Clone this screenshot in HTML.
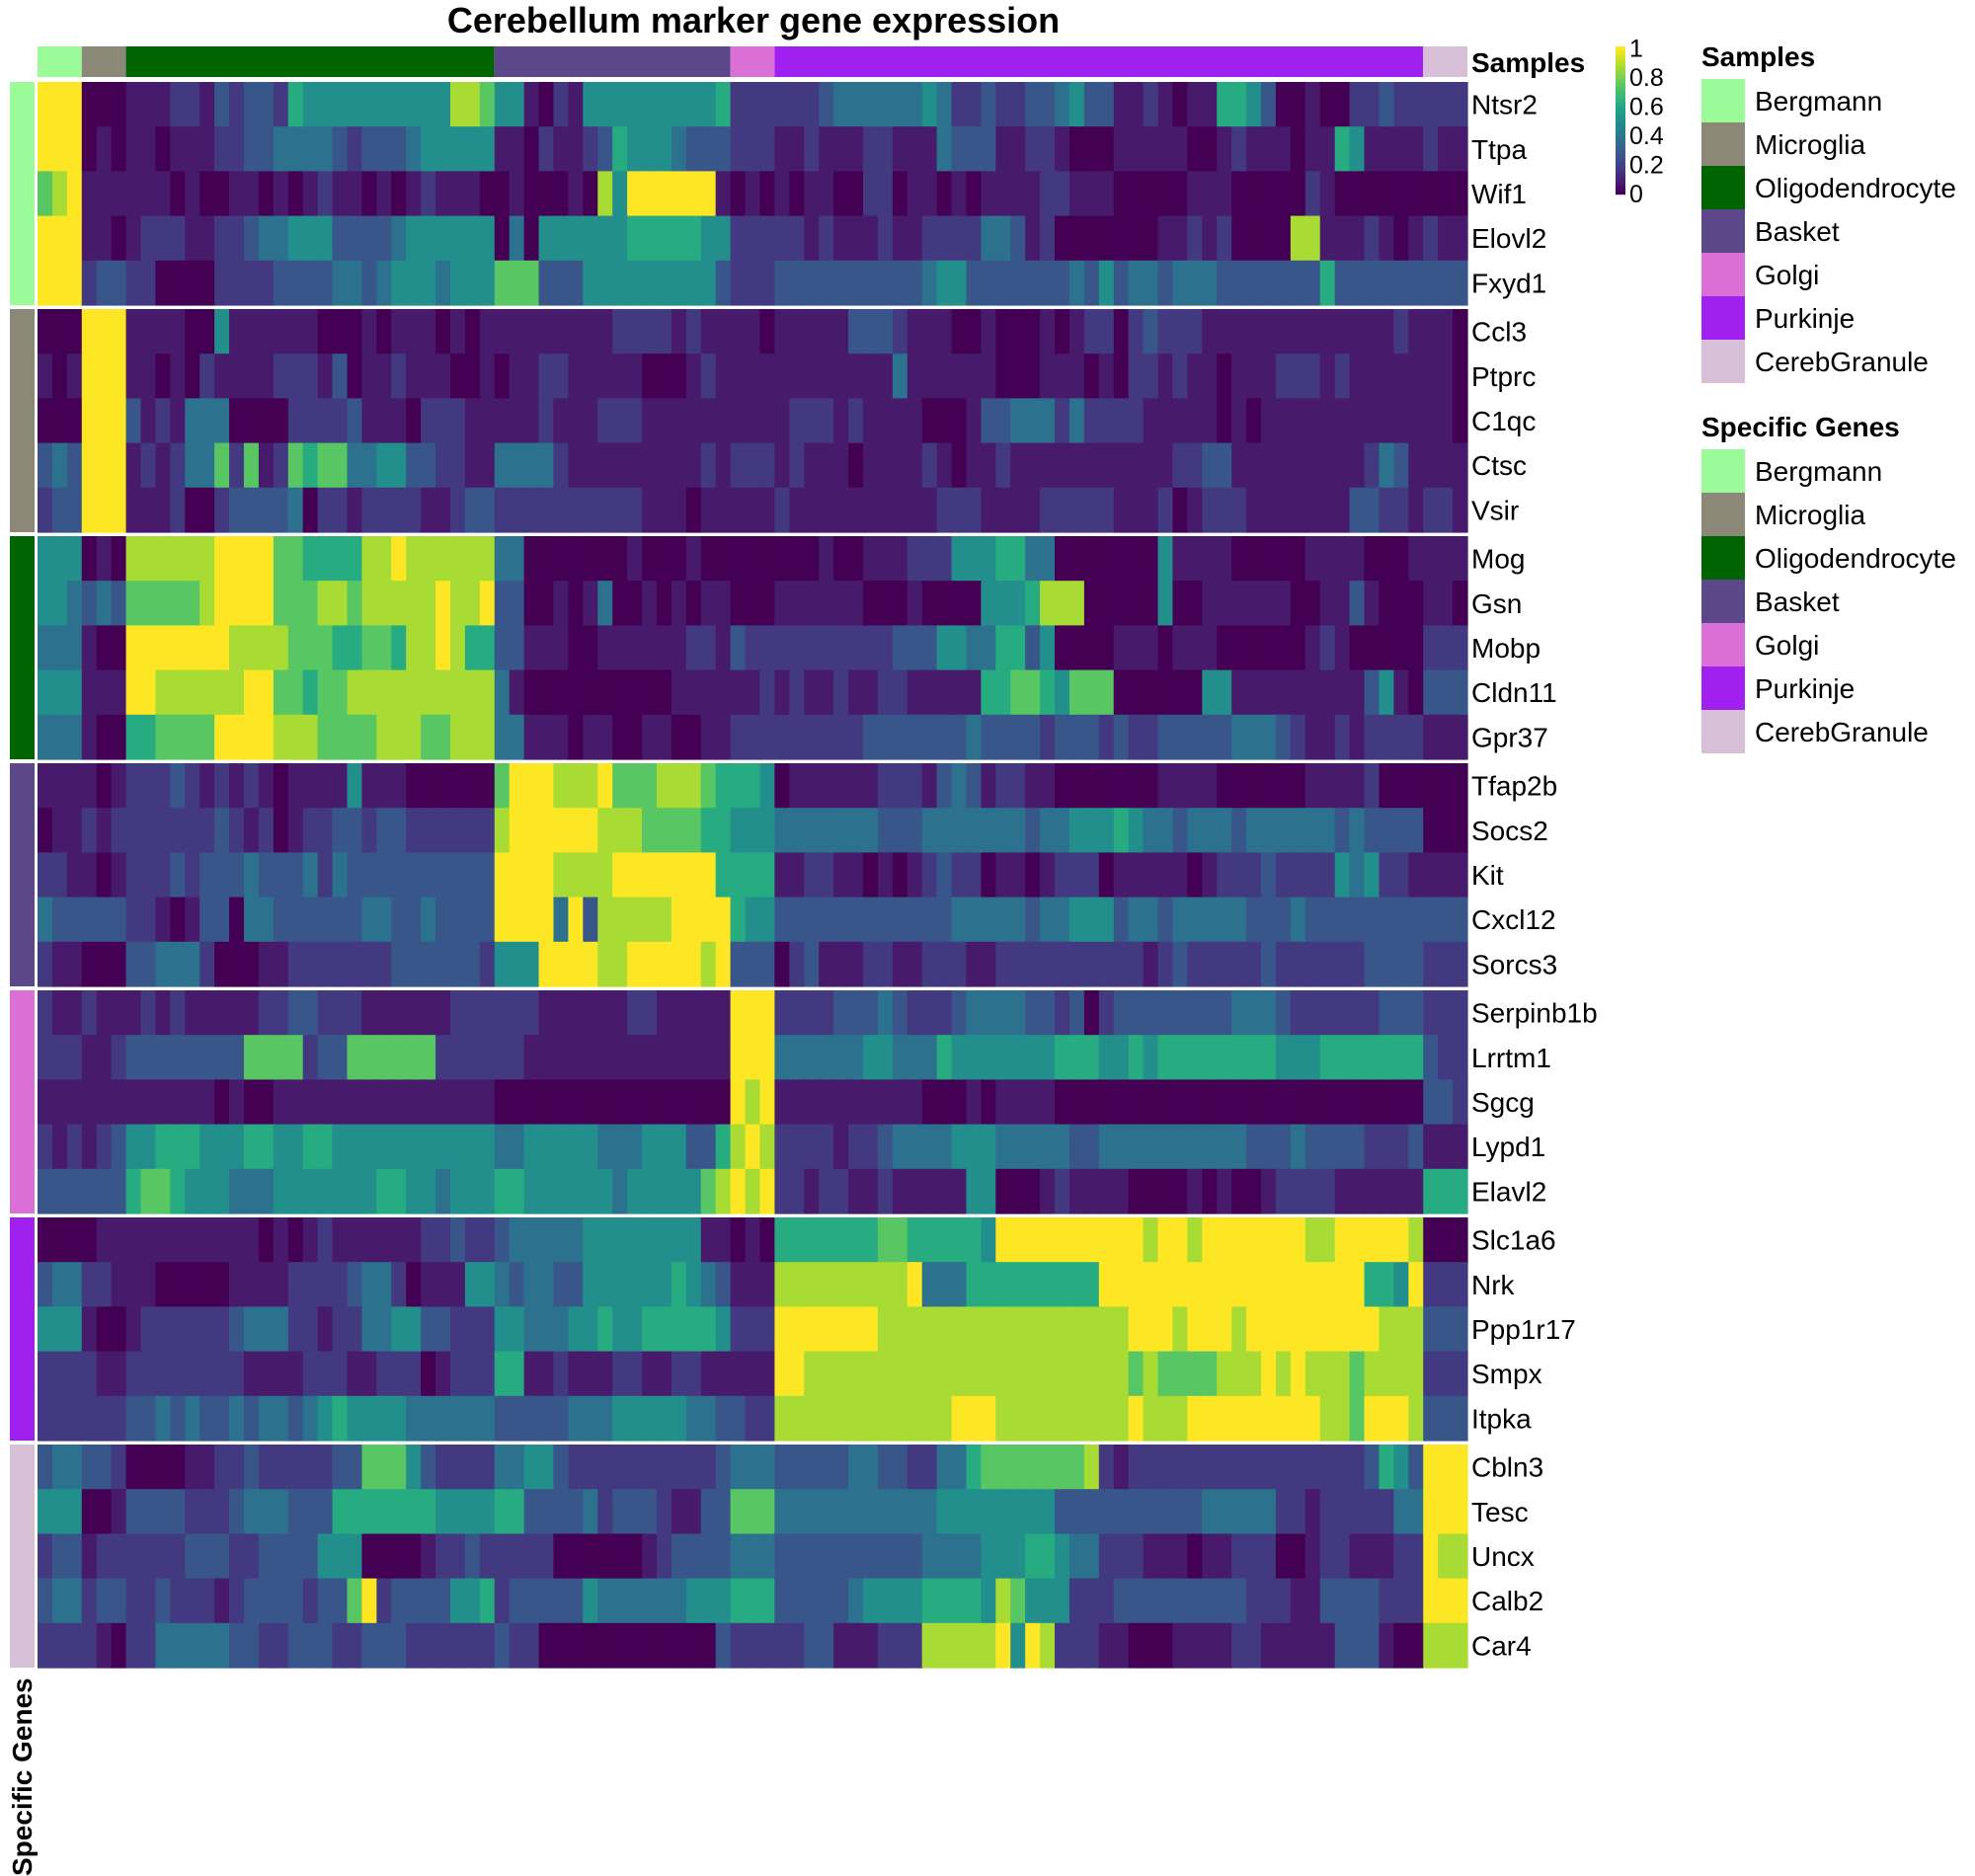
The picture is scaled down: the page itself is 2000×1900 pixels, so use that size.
<!DOCTYPE html>
<html><head><meta charset="utf-8"><style>
body{margin:0;background:#fff;}
svg{display:block;font-family:"Liberation Sans",Arial,sans-serif;}
</style></head><body>
<svg id="chart" width="2000" height="1900" viewBox="0 0 2000 1900" xmlns="http://www.w3.org/2000/svg">
<text x="763" y="33" font-size="36" font-weight="bold" text-anchor="middle">Cerebellum marker gene expression</text>
<g id="cells"></g>
<g id="annot"></g>
<g id="labels"></g>
<g id="legend"></g>
</svg>
<script>
const cellTypes = ["Bergmann","Microglia","Oligodendrocyte","Basket","Golgi","Purkinje","CerebGranule"];
const typeColors = ["#9AFB98","#8B8878","#006400","#5D478B","#DA70D6","#A020F0","#D8BFD8"];
const samplesPerType = [3,3,25,16,3,44,3];
const genes = ["Ntsr2","Ttpa","Wif1","Elovl2","Fxyd1","Ccl3","Ptprc","C1qc","Ctsc","Vsir","Mog","Gsn","Mobp","Cldn11","Gpr37","Tfap2b","Socs2","Kit","Cxcl12","Sorcs3","Serpinb1b","Lrrtm1","Sgcg","Lypd1","Elavl2","Slc1a6","Nrk","Ppp1r17","Smpx","Itpka","Cbln3","Tesc","Uncx","Calb2","Car4"];
const colorTicks = ["0","0.2","0.4","0.6","0.8","1"];
// expression (0-9 scale -> 0-1), segments per cell type separated by spaces
const expr = [
"999 000 1112213233265555555555887 5510215555555556 222 22234444445422322334533112101166530010022322 222",
"999 010 1101112233444432333455555 1102112365554333 222 11211122111433311221000111110012111011651111 211",
"789 111 1110100110101211010121110 0100010859999991 010 10110022011010111122111000001110000021000000 000",
"999 110 1222112234455533334555555 0405555556666655 222 22121112112222443120000000112120000881112101 211",
"999 233 2200002222333344345554555 7773335555555553 222 33333333334553333333435344344433333336333333 333",
"000 999 1111005111111000101110101 1111111122221211 110 11111333211100100010122023222111111111111121 110",
"101 999 1101021111222130112111001 0112211111000121 111 11111111411111100011101022121101112221211111 110",
"000 999 3121444000022223111022211 1112111222111111 111 12221211110001334442422221111101011111111111 110",
"343 999 1212447271276774455332211 4444211111111121 222 12111011112101121111111111122331111111112431 111",
"233 999 1112002333340221222211233 2222222222111011 111 21111111111222111122222111201222111111133221 221",
"555 010 8888889999776666889888888 4400000001000100 000 00010011122255566440000000511110000011110001 111",
"554 343 7777789999777887888889889 3300101400101011 000 11111100010000555688800000500111111001131000 110",
"444 100 9999999888877766776889866 3311100111111221 322 22222222333554466350000111011100000012100000 222",
"555 111 9988888899776778888888888 4100000000001111 112 12112112211111667765777000000551111111113510 333",
"444 100 6677779999888777788877888 4411101100110011 222 22222233333334333323332322333334443211212222 111",
"111 101 2223212121011115111000000 7999888977788876 665 01111112221343122110000000111100000011112000 000",
"011 212 2222223212012233233222222 8999999888777766 555 44444443334444444344555654434443444444343333 000",
"221 101 2223233343334243333333333 9999888899999996 666 11221101012322011012220111110122232222545221 111",
"433 333 2210133044333333443343333 9999493888889999 655 33333333333344444344555344344444333433333333 333",
"211 000 3344420001122222223333332 5559999889999989 333 02311122112221122222222221232222232222223333 222",
"211 211 1212111112233222111111222 2221111112211111 999 22223334322234444332302333333334443222222333 222",
"222 112 3333333377772337777772222 2211111111111111 999 44444455444655555556665565666666665556666666 322",
"111 111 1111110100111111111111111 0000000000000000 989 11111111110001011110000000000000000000000000 332",
"212 123 5566655566556655555555555 4455555444555336 898 22221223444455544444334444444444333433332223 111",
"333 333 6776555444555555566554555 6655555545555578 989 22122112111115500012111100001010012222111111 666",
"000 011 1111111110101211111122322 3444445555555511 010 66666667766666599999999998998999999988999998 000",
"344 221 1100000111122223442011155 4344335555556543 111 88888888894446666666669999999999999999996659 222",
"555 100 1222222344422122445533222 5544455655666665 222 99999998888888888888888899989998999999999888 333",
"222 211 2222222211112221122201222 6611211122112211 111 99888888888888888888888878777788898988878888 222",
"222 222 3343433434434565555444444 3333344455555443 322 88888888888899988888888898889999999998879998 333",
"344 332 0000112232222233777532222 4455322222222223 444 33333443322446777777782122222222222222223653 999",
"555 001 3333222344433366666665555 6633334233321133 777 44444444444555555553333333333444442212222244 999",
"233 122 2222333223333555000012232 2222000000123333 444 33333333334444555665442221110112220012211122 988",
"344 233 2232221233332337923333556 2333335444444555 666 33333455556666587555222333333333222113333222 999",
"222 210 2244444332233322333222222 3220000000000003 222 22331112228888895982221100011112211111333100 888"
];
const viridis = ["#440154","#482475","#414487","#355f8d","#2a788e","#21918c","#22a884","#44bf70","#7ad151","#bddf26","#fde725"];
function vcol(v){v=Math.max(0,Math.min(1,v));const p=v*10,i=Math.min(9,Math.floor(p)),f=p-i;
 const a=viridis[i],b=viridis[i+1];const h=(s,k)=>parseInt(s.substr(1+2*k,2),16);
 const c=[0,1,2].map(k=>Math.round(h(a,k)+(h(b,k)-h(a,k))*f));return `rgb(${c[0]},${c[1]},${c[2]})`;}
function rowValues(str){const segs=str.split(" ");let out=[];
 segs.forEach((s,t)=>{let n=samplesPerType[t];let a=s.split("").map(Number);while(a.length<n)a.push(a[a.length-1]);a=a.slice(0,n);out=out.concat(a.map(d=>Math.pow(d/9,1.2)));});return out;}
const NS="http://www.w3.org/2000/svg";
function mk(tag,attrs,parent){const e=document.createElementNS(NS,tag);for(const k in attrs)e.setAttribute(k,attrs[k]);parent.appendChild(e);return e;}
const X0=38,X1=1486,Y0=83,ROWH=45.2,GAP=4;
const nCols=samplesPerType.reduce((a,b)=>a+b,0);
const colW=(X1-X0)/nCols;
const xScale=c=>X0+c*colW;
const yScale=r=>Y0+r*ROWH+Math.floor(r/5)*GAP;
const cells=document.getElementById("cells"),annot=document.getElementById("annot"),labels=document.getElementById("labels"),legend=document.getElementById("legend");
expr.forEach((s,r)=>{const vals=rowValues(s);
 vals.forEach((v,c)=>{const e=mk("rect",{x:xScale(c),y:yScale(r),width:colW+0.6,height:ROWH+0.6,fill:vcol(v)},cells);
  
  });
 const t=mk("text",{x:1490,y:yScale(r)+ROWH/2+10,"font-size":28},labels);t.textContent=genes[r];
 
 
});
let c0=0;samplesPerType.forEach((n,t)=>{const e=mk("rect",{x:xScale(c0),y:47,width:n*colW,height:31,fill:typeColors[t]},annot);
 
 c0+=n;});
const sl=mk("text",{x:1490,y:73,"font-size":28,"font-weight":"bold"},annot);sl.textContent="Samples";


cellTypes.forEach((ct,t)=>{const e=mk("rect",{x:10,y:yScale(t*5),width:25,height:5*ROWH,fill:typeColors[t]},annot);
 
 });
const sg=mk("text",{x:0,y:0,"font-size":28,"font-weight":"bold",transform:"translate(32,1900) rotate(-90)"},annot);sg.textContent="Specific Genes";


for(let i=0;i<50;i++){const e=mk("rect",{x:1636,y:47+i*3,width:10,height:3.2,fill:vcol(1-i/49)},legend);
 
 }
colorTicks.forEach((lab,i)=>{const t=mk("text",{x:1650,y:196-i*29.5+9,"font-size":25},legend);t.textContent=lab;
 
 });
[["Samples",67],["Specific Genes",442]].forEach(([title,ty])=>{
 const t=mk("text",{x:1723,y:ty,"font-size":28,"font-weight":"bold"},legend);t.textContent=title;
 
 
 cellTypes.forEach((ct,i)=>{const y=ty+13+i*44;
  const r=mk("rect",{x:1723,y:y,width:44,height:44,fill:typeColors[i]},legend);
  
  
  const l=mk("text",{x:1777,y:y+32,"font-size":28},legend);l.textContent=ct;
  
  });
});
</script>
</body></html>
